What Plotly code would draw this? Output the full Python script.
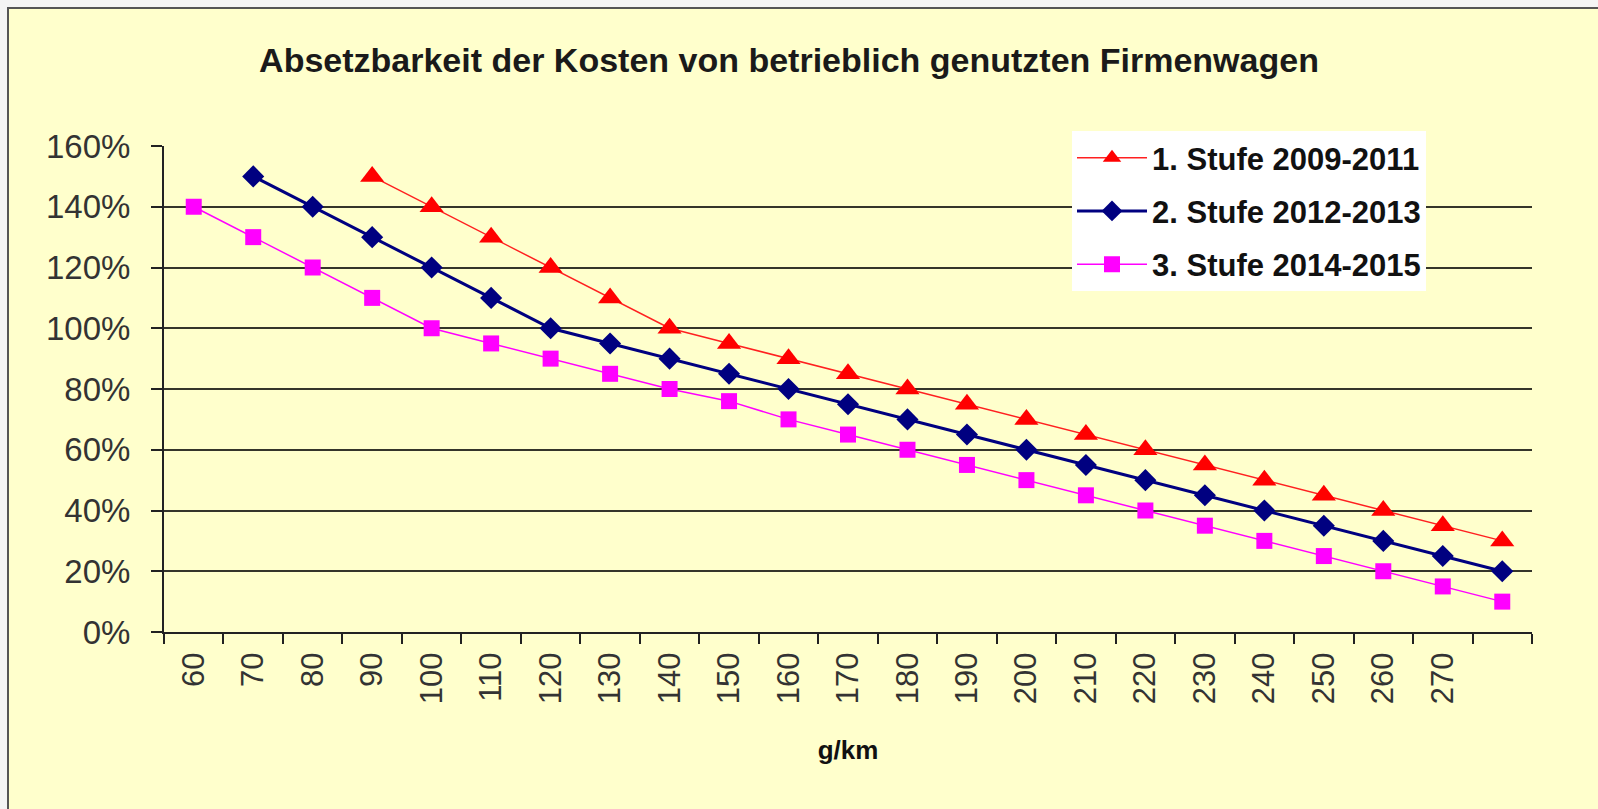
import plotly.graph_objects as go

# ---- data ----
categories = ["60", "70", "80", "90", "100", "110", "120", "130", "140", "150", "160",
              "170", "180", "190", "200", "210", "220", "230", "240", "250", "260", "270", "280"]
tick_labels = ["60", "70", "80", "90", "100", "110", "120", "130", "140", "150", "160",
               "170", "180", "190", "200", "210", "220", "230", "240", "250", "260", "270", ""]

stufe1_name = "1. Stufe 2009-2011"
stufe1 = [None, None, None, 1.50, 1.40, 1.30, 1.20, 1.10, 1.00, 0.95, 0.90,
          0.85, 0.80, 0.75, 0.70, 0.65, 0.60, 0.55, 0.50, 0.45, 0.40, 0.35, 0.30]

stufe2_name = "2. Stufe 2012-2013"
stufe2 = [None, 1.50, 1.40, 1.30, 1.20, 1.10, 1.00, 0.95, 0.90, 0.85, 0.80,
          0.75, 0.70, 0.65, 0.60, 0.55, 0.50, 0.45, 0.40, 0.35, 0.30, 0.25, 0.20]

stufe3_name = "3. Stufe 2014-2015"
stufe3 = [1.40, 1.30, 1.20, 1.10, 1.00, 0.95, 0.90, 0.85, 0.80, 0.76, 0.70,
          0.65, 0.60, 0.55, 0.50, 0.45, 0.40, 0.35, 0.30, 0.25, 0.20, 0.15, 0.10]

title_text = "Absetzbarkeit der Kosten von betrieblich genutzten Firmenwagen"
x_title = "g/km"

# ---- layout geometry (pixels) ----
W, H = 1598, 809
L, R, T, B = 164, 1532, 146, 632
pw, ph = R - L, B - T

def px_x(x):
    return (x - L) / pw

def px_y(y):
    return (B - y) / ph

FONT = "Liberation Sans, Arial, sans-serif"
BG = "#FFFFCC"
GRID = "#35352a"

fig = go.Figure()

fig.add_trace(go.Scatter(
    x=categories, y=stufe1, name=stufe1_name, mode="lines+markers",
    line=dict(color="#FF2020", width=1.5),
    marker=dict(symbol="triangle-up", size=21, color="#FF0000"),
    legendgroup="a"))
fig.add_trace(go.Scatter(
    x=categories, y=stufe2, name=stufe2_name, mode="lines+markers",
    line=dict(color="#000080", width=3),
    marker=dict(symbol="diamond", size=17, color="#000080"),
    legendgroup="b"))
fig.add_trace(go.Scatter(
    x=categories, y=stufe3, name=stufe3_name, mode="lines+markers",
    line=dict(color="#FF00FF", width=1.5),
    marker=dict(symbol="square", size=16, color="#FF00FF"),
    legendgroup="c"))

fig.update_layout(
    width=W, height=H,
    margin=dict(l=L, r=W - R, t=T, b=H - B, pad=0),
    paper_bgcolor="#F4F4F4",
    plot_bgcolor="rgba(0,0,0,0)",
    font=dict(family=FONT, color="#333333", size=30),
    title=dict(text=title_text, xref="container", yref="container",
               x=789 / W, y=1 - 60 / H, xanchor="center", yanchor="middle",
               font=dict(family=FONT, size=34, color="#1a1a1a", weight="bold")),
    showlegend=True,
    legend=dict(x=px_x(1072), y=px_y(131), xanchor="left", yanchor="top",
                bgcolor="white", borderwidth=0,
                font=dict(family=FONT, size=31, color="#111111", weight="bold"),
                traceorder="grouped", tracegroupgap=10, itemwidth=70),
    shapes=[dict(type="rect", xref="paper", yref="paper",
                 x0=px_x(8), x1=px_x(W + 4), y0=px_y(H + 4), y1=px_y(8),
                 fillcolor=BG, line=dict(color="#555555", width=2), layer="below")],
)

fig.update_xaxes(
    type="category", tickmode="array", tickvals=categories, ticktext=tick_labels,
    range=[-0.5, len(categories) - 0.5],
    tickangle=-90, tickson="boundaries", ticks="outside", ticklen=10, tickwidth=2,
    tickcolor="#222222", showline=True, linecolor="#222222", linewidth=2,
    showgrid=False, zeroline=False, ticklabelstandoff=6,
    tickfont=dict(family=FONT, size=31, color="#333333"),
    title=dict(text=x_title, standoff=38,
               font=dict(family=FONT, size=26, color="#111111", weight="bold")),
)
fig.update_yaxes(
    range=[0, 1.6], dtick=0.2, tick0=0, tickformat=".0%",
    ticks="outside", ticklen=11, tickwidth=2, tickcolor="#222222",
    showline=True, linecolor="#222222", linewidth=2,
    showgrid=True, gridcolor=GRID, gridwidth=2, zeroline=False,
    ticklabelstandoff=14,
    tickfont=dict(family=FONT, size=33, color="#333333"),
)

fig.write_html("out.html", config={"displayModeBar": False},
               post_script="document.body.style.margin='0';document.body.style.overflow='hidden';")
